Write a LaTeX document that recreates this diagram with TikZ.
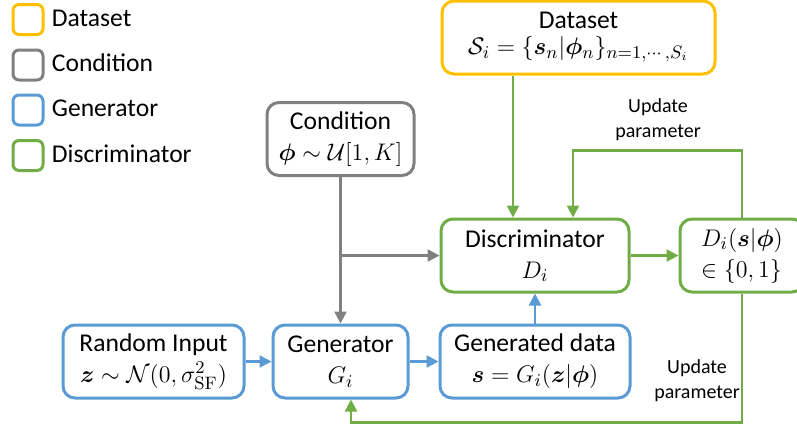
\documentclass[tikz,border=0pt]{standalone}
\usepackage{amsmath,bm}
\usepackage[no-math]{fontspec}
\setmainfont{Carlito}
\usetikzlibrary{arrows.meta,positioning}

\definecolor{dsyellow}{HTML}{FFC000}
\definecolor{cdgray}{HTML}{808080}
\definecolor{genblue}{HTML}{5B9BD5}
\definecolor{disgreen}{HTML}{70AD47}

\begin{document}
\begin{tikzpicture}[
  x=0.5pt, y=-0.5pt,
  font=\fontsize{12.8}{15.5}\selectfont,
  block/.style={draw, rounded corners=6pt, line width=1.5pt, minimum height=36.5pt, align=center, inner sep=0pt},
  legbox/.style={draw, rounded corners=3pt, line width=1.5pt, minimum size=15pt, inner sep=0pt},
  legtext/.style={inner sep=0pt, text height=9pt, text depth=2.5pt},
  flow/.style={line width=1.2pt, -{Triangle[length=6pt,width=6pt]}},
  note/.style={font=\fontsize{10}{12.5}\selectfont, align=center}
]
\useasboundingbox (0,0) rectangle (797,430);

% legend
\node[legbox, draw=dsyellow] (kds) at (28,19.5) {};
\node[legtext, right=3.5pt of kds] (kdstext) {Dataset};
\node[legbox, draw=cdgray] (kcd) at (28,65) {};
\node[legtext, right=3.5pt of kcd] (kcdtext) {Condition};
\node[legbox, draw=genblue] (kgen) at (28,110) {};
\node[legtext, right=3.5pt of kgen] (kgentext) {Generator};
\node[legbox, draw=disgreen] (kdis) at (28,155.5) {};
\node[legtext, right=3.5pt of kdis] (kdistext) {Discriminator};

% blocks
\node[block, draw=dsyellow, minimum width=136.5pt] (dataset) at (578.5,37.5) {Dataset\\[-2.5pt]$\mathcal{S}_i=\{\bm{s}_n|\bm{\phi}_n\}_{n=1,\cdots,S_i}$};
\node[block, draw=cdgray, minimum width=73.5pt] (cond) at (340.5,139) {Condition\\$\bm{\phi}\sim\mathcal{U}[1,K]$};
\node[block, draw=disgreen, minimum width=94pt] (discr) at (535,255.5) {Discriminator\\$D_i$};
\node[block, draw=disgreen, minimum width=62pt, align=left] (out) at (742,255.5) {$D_i(\bm{s}|\bm{\phi})$\\$\in\{0,1\}$};
\node[block, draw=genblue, minimum width=90.5pt] (rand) at (153.5,361.5) {Random Input\\$\bm{z}\sim\mathcal{N}(0,\sigma_{\mathrm{SF}}^2)$};
\node[block, draw=genblue, minimum width=67.5pt] (gen) at (340.5,361.5) {Generator\\$G_i$};
\node[block, draw=genblue, minimum width=95pt] (gendata) at (535,361.5) {Generated data\\$\bm{s}=G_i(\bm{z}|\bm{\phi})$};

\coordinate (din1) at ([xshift=-11pt]discr.north);
\coordinate (din2) at ([xshift=19pt]discr.north);
\coordinate (gin) at ([xshift=5.25pt]gen.south);
\coordinate (split) at (cond.south |- discr.west);

% connectors
\draw[flow, disgreen] (dataset.south -| din1) -- (din1);
\draw[flow, cdgray] (cond) -- (gen);
\draw[flow, cdgray] (split) -- (discr.west);
\draw[flow, genblue] (rand) -- (gen);
\draw[flow, genblue] (gen) -- (gendata);
\draw[flow, genblue] (gendata) -- (discr);
\draw[flow, disgreen] (discr) -- (out);
\draw[flow, disgreen] (out.north) -- ++(0,-67) -| (din2);
\draw[flow, disgreen] (out.south) -- ++(0,129) -| (gin);

\node[note] (upd1) at (658,120) {Update\\parameter};
\node[note] (upd2) at (697,381) {Update\\parameter};

\end{tikzpicture}
\end{document}
